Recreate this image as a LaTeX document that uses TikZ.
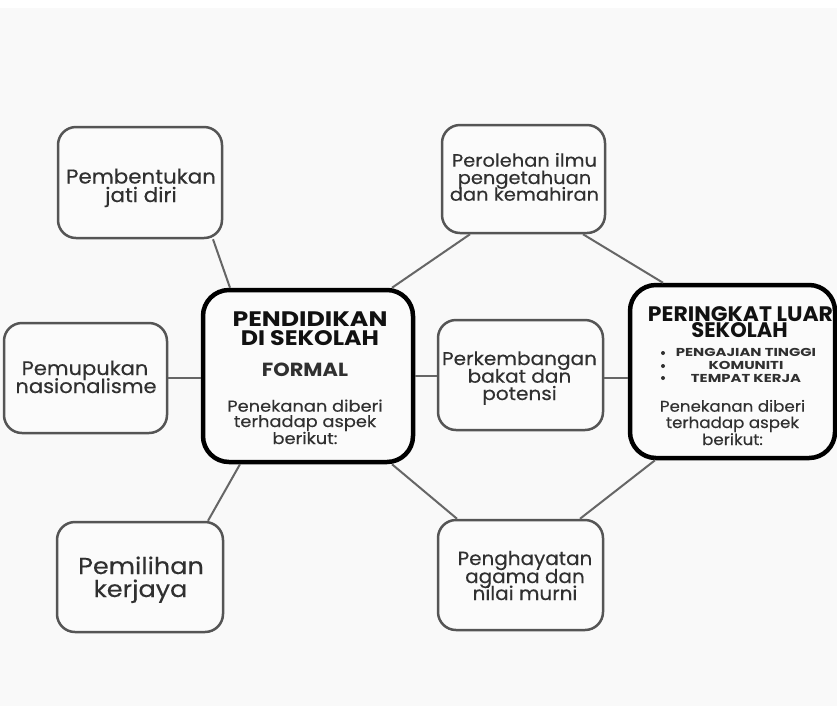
\documentclass[tikz,border=0pt]{standalone}
\usepackage{fontspec}
\setmainfont{Poppins}
\usetikzlibrary{calc}
\definecolor{bgc}{HTML}{F9F9F9}
\definecolor{boxfill}{HTML}{FBFBFB}
\definecolor{boxc}{HTML}{555555}
\definecolor{linec}{HTML}{666666}
\definecolor{txtc}{HTML}{303030}
\definecolor{titc}{HTML}{111111}
\newcommand{\fs}[2]{\fontsize{#1}{#1}\selectfont\addfontfeatures{FakeStretch=#2}}
\newcommand{\rs}[2]{\fontsize{#1}{#1}\selectfont\addfontfeatures{FakeStretch=#2,FakeBold=0.3}}
\begin{document}
\begin{tikzpicture}[x=1pt,y=-1pt,
  box/.style={draw=boxc, line width=2.5pt, rounded corners=18pt, fill=boxfill, inner sep=0pt},
  mainbox/.style={draw=black, line width=4.5pt, rounded corners=26pt, fill=boxfill, inner sep=0pt},
  txt/.style={anchor=base, inner sep=0pt, text=txtc},
  tit/.style={anchor=base, inner sep=0pt, text=titc},
  conn/.style={draw=linec, line width=2pt}]
\useasboundingbox (0,0) rectangle (837,716);
\fill[white] (0,0) rectangle (837,716);
\fill[bgc] (0,8) rectangle (837,706);
% boxes
\node[box, minimum width=164pt, minimum height=111pt] (pb) at (140,182.5) {};
\node[box, minimum width=163pt, minimum height=110pt] (pm) at (85.5,378) {};
\node[box, minimum width=166pt, minimum height=110pt] (pk) at (140,577) {};
\node[box, minimum width=163pt, minimum height=108pt] (po) at (523.5,179) {};
\node[box, minimum width=165pt, minimum height=110pt] (pe) at (520.5,375) {};
\node[box, minimum width=165pt, minimum height=110pt] (pg) at (520.5,575) {};
\node[mainbox, minimum width=210pt, minimum height=172pt] (C) at (308,376) {};
\node[mainbox, minimum width=205pt, minimum height=173pt] (R) at (732.5,371.5) {};
\coordinate (peR) at ([yshift=-3pt]pe.east);
% connectors
\draw[conn] ([xshift=73pt]pb.south) -- ([xshift=-78pt]C.north);
\draw[conn] (pm.east) -- (C.west |- pm.east);
\draw[conn] ([xshift=68pt]pk.north) -- ([xshift=-68pt]C.south);
\draw[conn] ([xshift=84pt]C.north) -- ([xshift=-53.5pt]po.south);
\draw[conn] ([xshift=59.5pt]po.south) -- ([xshift=-69.5pt]R.north);
\draw[conn] (C.east) -- (pe.west |- C.east);
\draw[conn] (peR) -- (R.west |- peR);
\draw[conn] ([xshift=84pt]C.south) -- ([xshift=-63.5pt]pg.north);
\draw[conn] ([xshift=59.5pt]pg.north) -- ([xshift=-77.5pt]R.south);
% texts
\node[txt, font=\rs{20}{1.07}] (pb1) at (141,183.5) {Pembentukan};
\node[txt, font=\rs{20}{1.07}] (pb2) at (141,202) {jati diri};
\node[txt, font=\rs{19.5}{1.08}] (pm1) at (85,375) {Pemupukan};
\node[txt, font=\rs{19.5}{1.08}] (pm2) at (86,393) {nasionalisme};
\node[txt, font=\rs{23}{1.11}] (pk1) at (141,574) {Pemilihan};
\node[txt, font=\rs{23}{1.11}] (pk2) at (140.5,597) {kerjaya};
\node[txt, font=\rs{18}{1.08}] (po1) at (524.5,166.7) {Perolehan ilmu};
\node[txt, font=\rs{18}{1.08}] (po2) at (524.5,184) {pengetahuan};
\node[txt, font=\rs{18}{1.08}] (po3) at (524.5,200.7) {dan kemahiran};
\node[txt, font=\rs{18.5}{1.085}] (pe1) at (519.5,365) {Perkembangan};
\node[txt, font=\rs{18.5}{1.085}] (pe2) at (519.5,382.7) {bakat dan};
\node[txt, font=\rs{18.5}{1.085}] (pe3) at (519.5,400) {potensi};
\node[txt, font=\rs{19}{1.05}] (pg1) at (525,565) {Penghayatan};
\node[txt, font=\rs{19}{1.05}] (pg2) at (525,583) {agama dan};
\node[txt, font=\rs{19}{1.05}] (pg3) at (525,600) {nilai murni};
% centre box
\node[tit, font=\bfseries\fs{21}{1.2}] (c1) at (310,326.7) {PENDIDIKAN};
\node[tit, font=\bfseries\fs{21}{1.13}] (c2) at (310,345) {DI SEKOLAH};
\node[txt, font=\bfseries\fs{19}{1.1}] (c3) at (305,376.7) {FORMAL};
\node[txt, font=\rs{16}{1.115}] (c4) at (305,411.7) {Penekanan diberi};
\node[txt, font=\rs{16}{1.115}] (c5) at (305,427) {terhadap aspek};
\node[txt, font=\rs{16}{1.115}] (c6) at (305,444) {berikut:};
% right box
\node[tit, font=\bfseries\fs{21}{1.045}] (r1) at (740.5,321.7) {PERINGKAT LUAR};
\node[tit, font=\bfseries\fs{21}{1.0}] (r2) at (739.5,337) {SEKOLAH};
\node[txt, font=\bfseries\fs{11.5}{1.29}] (r3) at (746,356.7) {PENGAJIAN TINGGI};
\node[txt, font=\bfseries\fs{11.5}{1.29}] (r4) at (746,369.5) {KOMUNITI};
\node[txt, font=\bfseries\fs{11.5}{1.29}] (r5) at (746,382) {TEMPAT KERJA};
\fill[txtc] (663,353) circle (2pt);
\fill[txtc] (663,366) circle (2pt);
\fill[txtc] (663,378) circle (2pt);
\node[txt, font=\rs{15.5}{1.075}] (r6) at (732.5,411.7) {Penekanan diberi};
\node[txt, font=\rs{15.5}{1.075}] (r7) at (732.5,428) {terhadap aspek};
\node[txt, font=\rs{15.5}{1.075}] (r8) at (732.5,445) {berikut:};
\end{tikzpicture}
\end{document}
